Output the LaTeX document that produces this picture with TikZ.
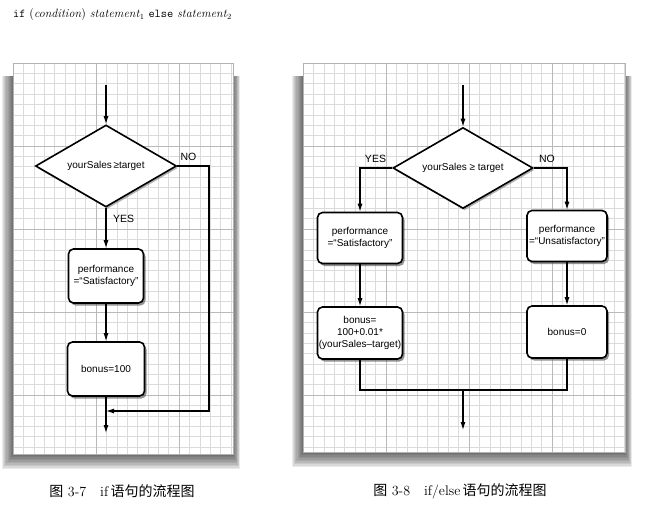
\documentclass[tikz,border=0pt]{standalone}
\usepackage{fontspec}
\newfontfamily\boxfont{Liberation Sans}
\newfontfamily\cjk{Noto Sans CJK SC}
\usetikzlibrary{shapes.geometric, arrows.meta, positioning, shadows}

\tikzset{
  flowline/.style={line width=1.1pt},
  flowarrow/.style={flowline, -{Latex[length=8pt,width=5pt]}},
  stepbox/.style={draw, line width=1.6pt, rounded corners=5pt, fill=white, align=center,
    inner sep=0pt, font=\boxfont\fontsize{10}{11.7}\selectfont,
    drop shadow={shadow xshift=2pt, shadow yshift=-2.5pt, fill=black!70, opacity=0.6}},
  decision/.style={diamond, shape aspect=1.7, draw, line width=1.6pt, fill=white, inner sep=0pt,
    font=\boxfont\fontsize{10}{11.7}\selectfont,
    drop shadow={shadow xshift=1.5pt, shadow yshift=-2pt, fill=black!60, opacity=0.5}},
  branch/.style={font=\boxfont\fontsize{10.5}{12}\selectfont, inner sep=1pt},
  minorgrid/.style={gray!28, line width=0.5pt},
  majorgrid/.style={gray!55, line width=0.6pt},
  caption/.style={font=\fontsize{14}{16}\selectfont}
}

\begin{document}
\begin{tikzpicture}[x=1pt, y=-1pt]
  \useasboundingbox (0,0) rectangle (652,529);

  % Syntax line
  \node[anchor=base west, inner sep=0pt, font=\fontsize{12}{14}\selectfont] (syntax) at (13,18)
    {\texttt{if} (\textit{condition}) \textit{statement}$_1$ \texttt{else} \textit{statement}$_2$};

  % Grid panels with shadows
  \foreach \xa/\xb/\yb in {13/233/454, 303/625/452} {
    \foreach \s in {1,...,10}
      \fill[black, opacity=0.08] (\xa-1.1*\s, 76) rectangle (\xb+0.7*\s, \yb+1.5*\s);
    \fill[white] (\xa,63) rectangle (\xb,\yb);
    \begin{scope}[shift={(\xa,63)}]
      \draw[minorgrid, step=10.375pt] (0,\yb-63) grid (\xb-\xa,0);
      \draw[majorgrid, step=83pt] (0,\yb-63) grid (\xb-\xa,0);
    \end{scope}
    \draw[gray!60] (\xa,63) rectangle (\xb,\yb);
  }

  % Fig. 3-7: if
  \coordinate (Lin) at (106,85);
  \node[decision, minimum width=141pt, minimum height=82pt] (Ldec) at (106,166) {yourSales\,≥target};
  \node[stepbox, minimum width=75pt, minimum height=54pt] (Lperf) at (106,276) {performance\\=“Satisfactory”};
  \node[stepbox, minimum width=77pt, minimum height=54pt] (Lbonus) at (106,369) {bonus=100};
  \coordinate (Lright) at (209,166);
  \coordinate (Ljoin) at (106,411);
  \coordinate (Lout) at (106,433);

  \draw[flowarrow] (Lin) -- (Ldec.north);
  \draw[flowarrow] (Ldec.south) -- (Lperf.north);
  \draw[flowarrow] (Lperf.south) -- (Lbonus.north);
  \draw[flowarrow] (Lbonus.south) -- (Lout);
  \draw[flowarrow] (Ldec.east) -- (Lright) |- (Ljoin);
  \node[branch, anchor=north west] (Lyes) at ([xshift=6pt,yshift=-6pt]Ldec.south) {YES};
  \node[branch, anchor=south west] (Lno) at ([xshift=2pt,yshift=4pt]Ldec.east) {NO};

  % Fig. 3-8: if/else
  \coordinate (Rin) at (463,85);
  \node[decision, minimum width=140pt, minimum height=81pt] (Rdec) at (463,168) {yourSales ≥ target};
  \node[stepbox, minimum width=85pt, minimum height=51pt] (RperfS) at (360,238) {performance\\=“Satisfactory”};
  \node[stepbox, minimum width=80pt, minimum height=51pt] (RperfU) at (567,236) {performance\\=“Unsatisfactory”};
  \node[stepbox, minimum width=85pt, minimum height=52pt] (RbonusS) at (360,333) {bonus=\\100+0.01*\\(yourSales–target)};
  \node[stepbox, minimum width=80pt, minimum height=52pt] (RbonusU) at (567,332) {bonus=0};
  \coordinate (Rjoin) at (463,390);
  \coordinate (Rout) at (463,430);

  \draw[flowarrow] (Rin) -- (Rdec.north);
  \draw[flowarrow] (Rdec.west) -| (RperfS.north);
  \draw[flowarrow] (Rdec.east) -| (RperfU.north);
  \draw[flowarrow] (RperfS.south) -- (RbonusS.north);
  \draw[flowarrow] (RperfU.south) -- (RbonusU.north);
  \draw[flowline] (RbonusS.south) |- (Rjoin) -| (RbonusU.south);
  \draw[flowarrow] (Rjoin) -- (Rout);
  \node[branch, anchor=south east] (Ryes) at ([xshift=-5pt,yshift=4pt]Rdec.west) {YES};
  \node[branch, anchor=south west] (Rno) at ([xshift=4pt,yshift=4pt]Rdec.east) {NO};

  % Captions
  \node[caption] (capL) at (122,491) {{\cjk 图}~3-7\quad if\,{\cjk 语句的流程图}};
  \node[caption] (capR) at (460,491) {{\cjk 图}~3-8\quad if/else\,{\cjk 语句的流程图}};
\end{tikzpicture}
\end{document}
